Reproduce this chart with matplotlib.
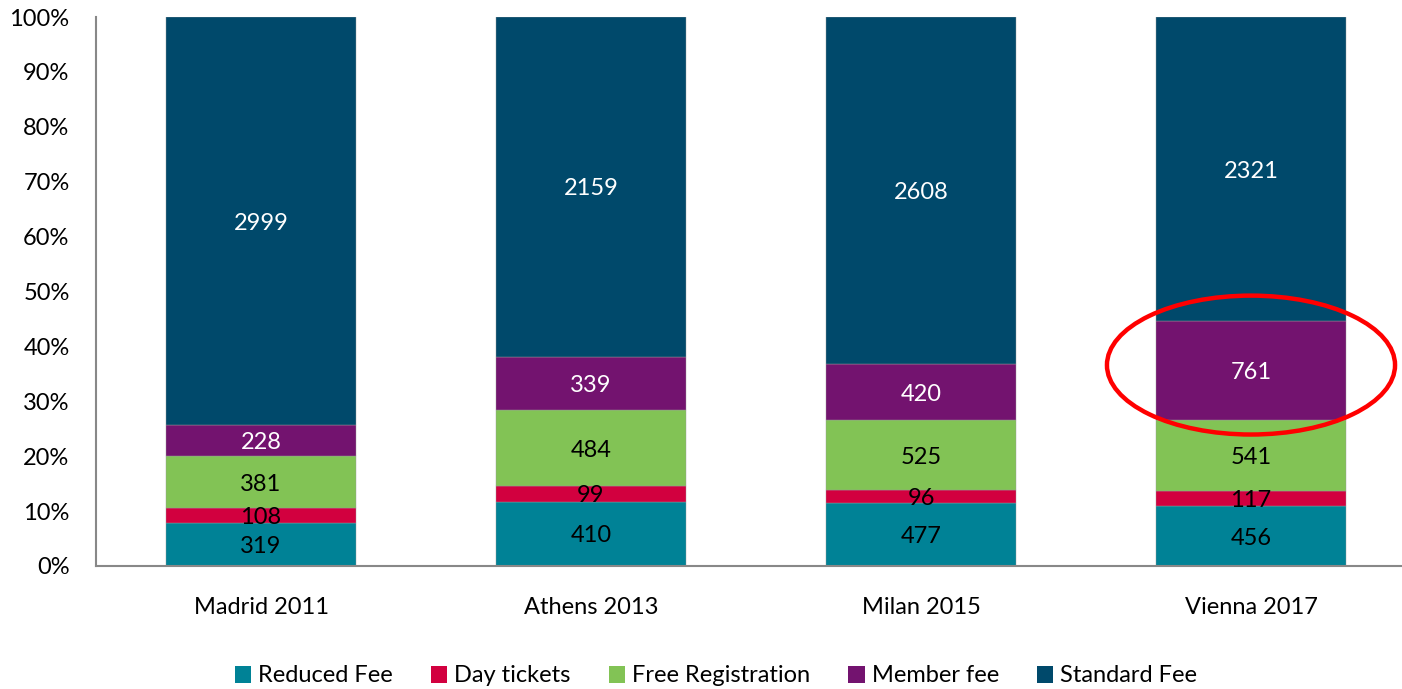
import numpy as np
import matplotlib.pyplot as plt
from matplotlib.patches import Ellipse, Patch

plt.rcParams['font.family'] = ['Lato', 'DejaVu Sans']

# Data
events = ["Madrid 2011", "Athens 2013", "Milan 2015", "Vienna 2017"]
series = ["Reduced Fee", "Day tickets", "Free Registration", "Member fee", "Standard Fee"]
reduced_fee = [319, 410, 477, 456]
day_tickets = [108, 99, 96, 117]
free_registration = [381, 484, 525, 541]
member_fee = [228, 339, 420, 761]
standard_fee = [2999, 2159, 2608, 2321]

colors = ["#008296", "#D2003F", "#82C355", "#73136F", "#00496B"]
label_colors = ["black", "black", "black", "white", "white"]

counts = np.array([reduced_fee, day_tickets, free_registration, member_fee, standard_fee], dtype=float)
shares = counts / counts.sum(axis=0) * 100

fig = plt.figure(figsize=(14.02, 6.89), dpi=100)
ax = fig.add_axes([96 / 1402, 1 - 566 / 689, 1320 / 1402, 549 / 689])

x = np.arange(len(events))
bottom = np.zeros(len(events))
for i, name in enumerate(series):
    ax.bar(x, shares[i], width=0.573, bottom=bottom, color=colors[i], label=name,
           edgecolor="#9a9a9a", linewidth=0.3)
    for j in range(len(events)):
        ax.text(x[j], bottom[j] + shares[i][j] / 2 - 0.4, f"{int(counts[i][j])}",
                ha="center", va="center", fontsize=17, color=label_colors[i])
    bottom += shares[i]

# highlight the Vienna member fee segment
ax.add_patch(Ellipse((3, 36.6), 0.873, 25.3, fill=False, edgecolor="#FF0000",
                     linewidth=3.2, clip_on=False, zorder=5))

ax.set_xlim(-0.5, 3.5)
ax.set_ylim(0, 100)
ax.set_yticks(np.arange(0, 101, 10))
ax.set_yticklabels([f"{v}%" for v in range(0, 101, 10)], fontsize=17)
ax.set_xticks(x)
ax.set_xticklabels(events, fontsize=17)
ax.tick_params(length=0)
ax.tick_params(axis="x", pad=22)
ax.tick_params(axis="y", pad=19)

for side in ["top", "right"]:
    ax.spines[side].set_visible(False)
for side in ["left", "bottom"]:
    ax.spines[side].set_color("#888888")
    ax.spines[side].set_linewidth(1.5)

handles = [Patch(facecolor=c, label=s) for c, s in zip(colors, series)]
fig.legend(handles=handles, loc="center", bbox_to_anchor=(716 / 1402, 1 - 676 / 689),
           ncol=5, frameon=False, fontsize=17, handlelength=0.7, handleheight=0.7,
           handletextpad=0.3, columnspacing=1.6)

fig.savefig("out.png", dpi=100)
